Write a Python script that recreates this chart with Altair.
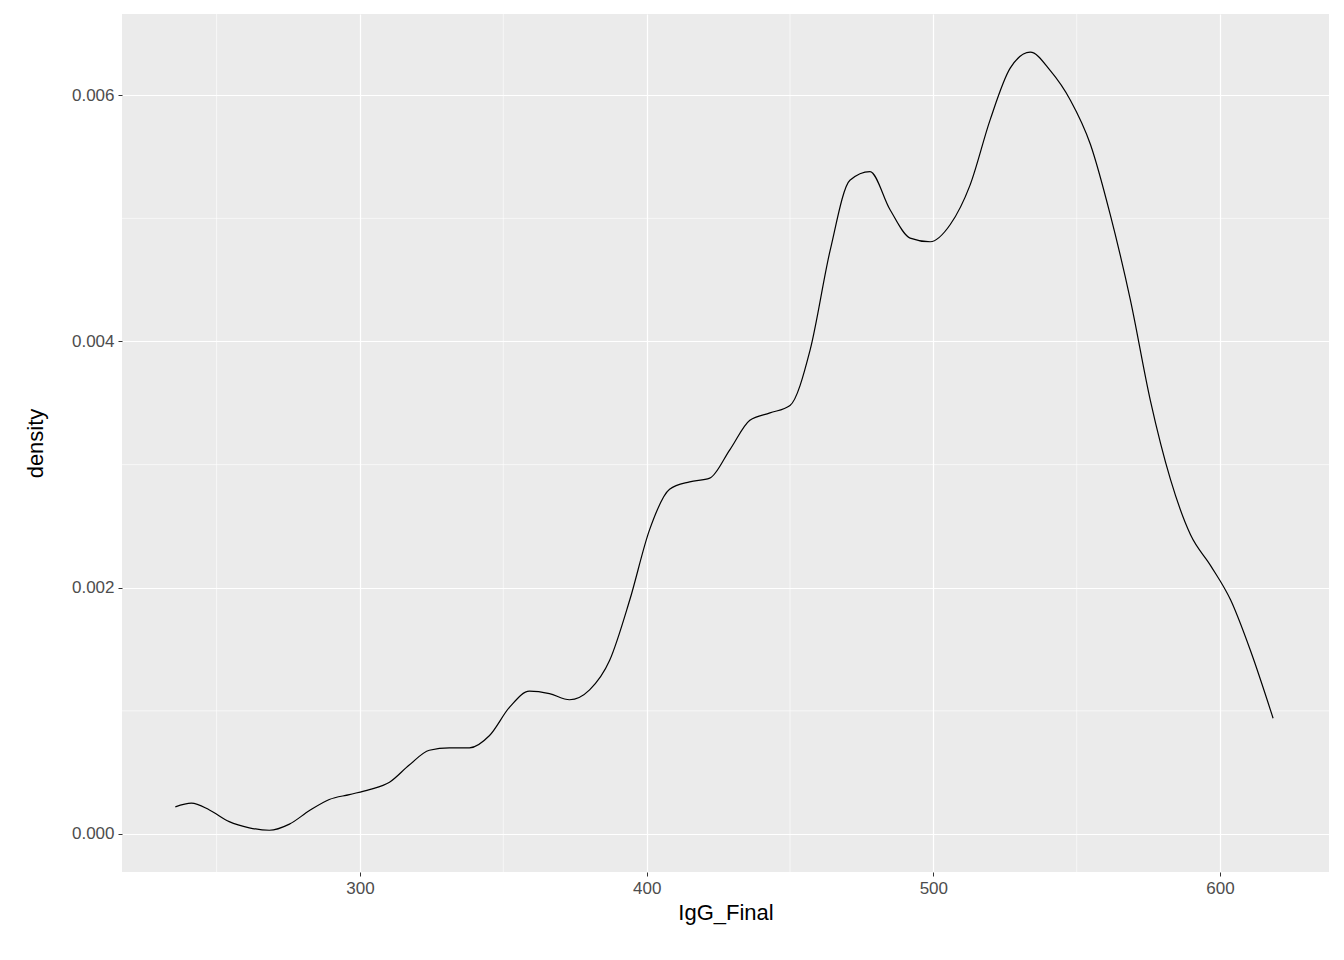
import altair as alt
import pandas as pd

igg = [235.6,241.2,247.5,254.4,261.4,268.4,275.4,282.4,289.3,296.3,303.3,310.3,317.2,324.2,331.2,338.2,345.2,352.2,359.1,366.1,373.1,380.1,387.1,394.1,401.0,408,415,422,429,436,443,450,457,464,470.9,477.9,484.9,491.9,498.9,505.9,512.8,519.8,526.8,533.8,540.8,547.8,554.8,561.7,568.7,575.7,582.7,589.7,596.7,603.7,610.6,618.5]
dens = [0.00022,0.00025,0.000195,0.0001,0.00005,0.00003,0.00008,0.00019,0.00028,0.00032,0.00036,0.00042,0.00056,0.00068,0.0007,0.0007,0.0008,0.00103,0.00116,0.00114,0.00109,0.00117,0.00141,0.0019,0.00247,0.0028,0.00286,0.00289,0.00312,0.00336,0.00342,0.00348,0.00393,0.00474,0.00531,0.00538,0.00507,0.00484,0.00481,0.00495,0.00527,0.0058,0.00622,0.00635,0.0062,0.00596,0.0056,0.00503,0.00434,0.00352,0.00288,0.00243,0.00218,0.0019,0.00149,0.00094]
minor_x = [250, 350, 450, 550]
minor_y = [0.001, 0.003, 0.005]

df = pd.DataFrame({"IgG_Final": igg, "density": dens})
xs = alt.Scale(domain=[217, 638], nice=False, zero=False)
ys = alt.Scale(domain=[-0.000309, 0.00666], nice=False, zero=False)

vminor = alt.Chart(pd.DataFrame({"v": minor_x})).mark_rule(color="white", strokeWidth=0.6).encode(x=alt.X("v:Q", scale=xs))
hminor = alt.Chart(pd.DataFrame({"v": minor_y})).mark_rule(color="white", strokeWidth=0.6).encode(y=alt.Y("v:Q", scale=ys))

line = alt.Chart(df).mark_line(color="black", strokeWidth=1.2, interpolate="monotone").encode(
    x=alt.X("IgG_Final:Q", scale=xs, title="IgG_Final",
            axis=alt.Axis(values=[300, 400, 500, 600])),
    y=alt.Y("density:Q", scale=ys, title="density",
            axis=alt.Axis(values=[0, 0.002, 0.004, 0.006], format=".3f")),
)

chart = alt.layer(vminor, hminor, line).properties(
    width=1207, height=858, autosize="none",
    padding={"left": 114, "top": 6, "right": 7, "bottom": 80},
).configure_view(fill="#EBEBEB", stroke=None).configure_axis(
    gridColor="white", gridWidth=1.2, domain=False, tickColor="#333333", tickSize=4,
    labelFont="Liberation Sans", labelFontSize=17, labelColor="#4D4D4D", labelPadding=4,
    titleFont="Liberation Sans", titleFontSize=22, titleFontWeight="normal", titleColor="black",
).configure_axisX(titlePadding=6).configure_axisY(titlePadding=24)

chart.save("out.html", embed_options={"renderer": "svg", "actions": False})
